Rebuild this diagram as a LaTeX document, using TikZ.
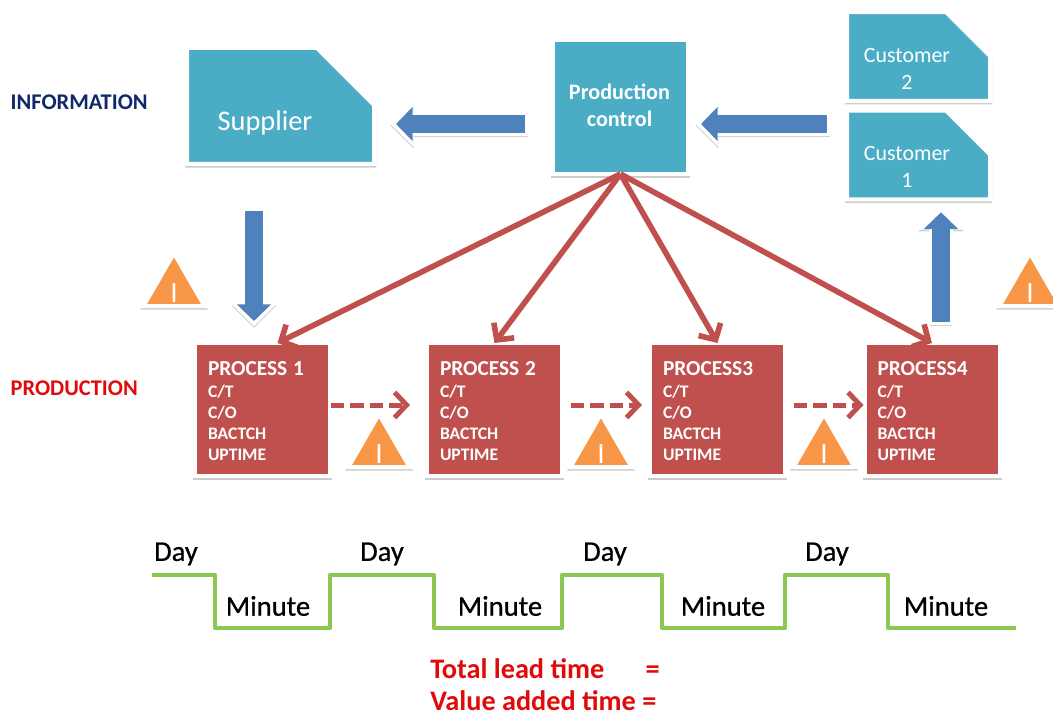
\documentclass[tikz,border=0pt]{standalone}
\usepackage{fontspec}
\setmainfont{Carlito}
\newfontfamily\semifont[FakeBold=0.7]{Carlito}
\usetikzlibrary{arrows.meta,shadows,shapes.geometric}
\definecolor{tealbox}{HTML}{4BACC6}
\definecolor{redbox}{HTML}{C0504D}
\definecolor{bluearrow}{HTML}{4F81BD}
\definecolor{orangetri}{HTML}{F79646}
\definecolor{greenline}{HTML}{8CC751}
\definecolor{navytext}{HTML}{10286B}
\definecolor{redtext}{HTML}{E00A0A}
\newcommand{\fsz}[2]{\fontsize{#1}{#2}\selectfont}
\begin{document}
\begin{tikzpicture}[x=.75pt,y=-.75pt,
softshadow/.style ={drop shadow={shadow xshift=0pt,shadow yshift=-1.2pt,opacity=.2,fill=black,draw=black,line width=3pt}},
slot/.style ={rectangle, inner sep=0pt, outer sep=0pt},
snipbig/.style ={slot, minimum width=140.25pt, minimum height=87pt},
snipsmall/.style ={slot, minimum width=107.25pt, minimum height=66.5pt},
snipface/.style ={draw=white, line width=3pt, fill=tealbox, softshadow},
control/.style ={rectangle, draw=white, line width=3pt, fill=tealbox, outer sep=0pt,
  minimum width=101.25pt, minimum height=100.5pt, softshadow
},
proc/.style ={rectangle, draw=white, line width=3pt, fill=redbox, outer sep=0pt,
  minimum width=101.25pt, minimum height=99.75pt, inner xsep=9.75pt, inner ysep=0pt,
  text width=81.75pt, text depth=62pt, align=left, text=white, font=\bfseries\fsz{13.2}{15.75}, softshadow
},
inv/.style ={regular polygon, regular polygon sides=3, draw=white, line width=3pt,
  fill=orangetri, inner sep=0pt, minimum size=52.8pt, softshadow,
  label={[text=white, font=\fsz{22}{22}, yshift=-3.6pt]center:I}
},
flow/.style ={draw=bluearrow, line width=13.5pt, -{Triangle[length=12.5pt,width=25pt]},
  preaction={draw=black!18, line width=17pt, transform canvas={yshift=-1.2pt}, shorten >=-4pt, shorten <=-2pt,
    -{Triangle[length=17pt,width=33pt]}},
  preaction={draw=white, line width=17.5pt, shorten >=-4pt, shorten <=-2.5pt,
    -{Triangle[length=17pt,width=33pt]}}
},
signal/.style ={draw=redbox, line width=4.2pt, -{Straight Barb[length=9pt,width=19pt]}},
push/.style ={signal, line width=3.75pt, dash pattern=on 10pt off 4.5pt},
steps/.style ={draw=greenline, line width=3.5pt, line join=round,
  preaction={draw=black!25, transform canvas={yshift=-1.2pt}}
},
caption/.style ={text=black, font=\semifont\fsz{21.4}{24}},
lane/.style ={anchor=west, font=\bfseries\fsz{16.8}{20}},
tally/.style ={anchor=west, inner sep=0pt, text=redtext, font=\bfseries\fsz{21.2}{24}},
boxlabel/.style ={text=white, align=center}
]
\useasboundingbox (0,0) rectangle (1053,713);

% information flow
\node (supplier) at (280.5,106) [snipbig] {};
\node (cust2) at (918.5,56.5) [snipsmall] {};
\node (cust1) at (918.5,155) [snipsmall] {};
\foreach \boxname/\chamf in {supplier/57,cust2/44,cust1/44}
  \draw [snipface] (\boxname.north west) -- ([xshift=-\chamf*.75pt]\boxname.north east)
    -- ([yshift=-\chamf*.75pt]\boxname.north east) -- (\boxname.south east)
    -- (\boxname.south west) -- cycle;
\node (control) at (620.5,107) [control] {};
\node (controllbl) at (619.5,105.5) [boxlabel, font=\bfseries\fsz{16.6}{20}] {Production\\control};
\node (supplierlbl) at (265,123) [boxlabel, font=\fsz{21.3}{24}] {Supplier};
\node (cust2lbl) at (907,69) [boxlabel, font=\fsz{16.4}{20}] {Customer\\2};
\node (cust1lbl) at (907,167) [boxlabel, font=\fsz{16.4}{20}] {Customer\\1};

% production line
\node (p1) at (262.5,409.5) [proc] {{\fsz{16}{16}PROCESS 1}\\[1pt]C/T\\C/O\\BACTCH\\UPTIME};
\node (p2) at (494.5,409.5) [proc] {{\fsz{16}{16}PROCESS 2}\\[1pt]C/T\\C/O\\BACTCH\\UPTIME};
\node (p3) at (717.5,409.5) [proc] {{\fsz{16}{16}PROCESS3}\\[1pt]C/T\\C/O\\BACTCH\\UPTIME};
\node (p4) at (932,409.5) [proc] {{\fsz{16}{16}PROCESS4}\\[1pt]C/T\\C/O\\BACTCH\\UPTIME};

\node (inv0) at (174,288.4) [inv] {};
\node (inv1) at (379,449.4) [inv] {};
\node (inv2) at (601,449.4) [inv] {};
\node (inv3) at (824,449.4) [inv] {};
\node (inv4) at (1030,288.4) [inv] {};

\node (infolbl) at (6,102) [lane, text=navytext] {INFORMATION};
\node (prodlbl) at (6,388) [lane, text=redtext] {PRODUCTION};

% connectors
\draw [flow] ([shift={(-20,17)}]cust1.west |- control.east) -- ([shift={(13,17)}]control.east);
\draw [flow] ([shift={(-28,17)}]control.west) -- ([shift={(22,18)}]supplier.east);
\draw [flow] ([shift={(-26.5,47)}]supplier.south) -- ([shift={(-8.5,-22)}]p1.north);
\draw [flow] ([shift={(9,-21)}]p4.north) -- ([shift={(22.5,13)}]cust1.south);

\draw [signal] (control.south) -- ([xshift=11.25pt]p1.north);
\draw [signal] (control.south) -- (p2.north);
\draw [signal] (control.south) -- (p3.north);
\draw [signal] (control.south) -- (p4.north);

\draw [push] ([shift={(1,-4.5)}]p1.east) -- ([shift={(-17,-4.5)}]p2.west);
\draw [push] ([shift={(9,-4.5)}]p2.east) -- ([shift={(-8,-4.5)}]p3.west);
\draw [push] ([shift={(9,-4.5)}]p3.east) -- ([shift={(-1,-4.5)}]p4.west);

% time line
\draw [steps] (152,575) -- (215,575) -- (215,628) -- (330,628) -- (330,575) -- (434,575) -- (434,628)
  -- (562,628) -- (562,575) -- (662,575) -- (662,628) -- (785,628) -- (785,575) -- (888,575)
  -- (888,628) -- (1016,628);

\foreach \dayname/\xd in {d1/176,d2/382,d3/605,d4/827}
  \node (\dayname) at (\xd,554) [caption] {Day};
\foreach \minname/\xm in {m1/268,m2/500,m3/723,m4/946}
  \node (\minname) at (\xm,606) [caption] {Minute};

\node (lead) at (430,669) [tally] {Total lead time\hspace{31pt}=};
\node (added) at (430,701) [tally] {Value added time =};
\end{tikzpicture}
\end{document}
